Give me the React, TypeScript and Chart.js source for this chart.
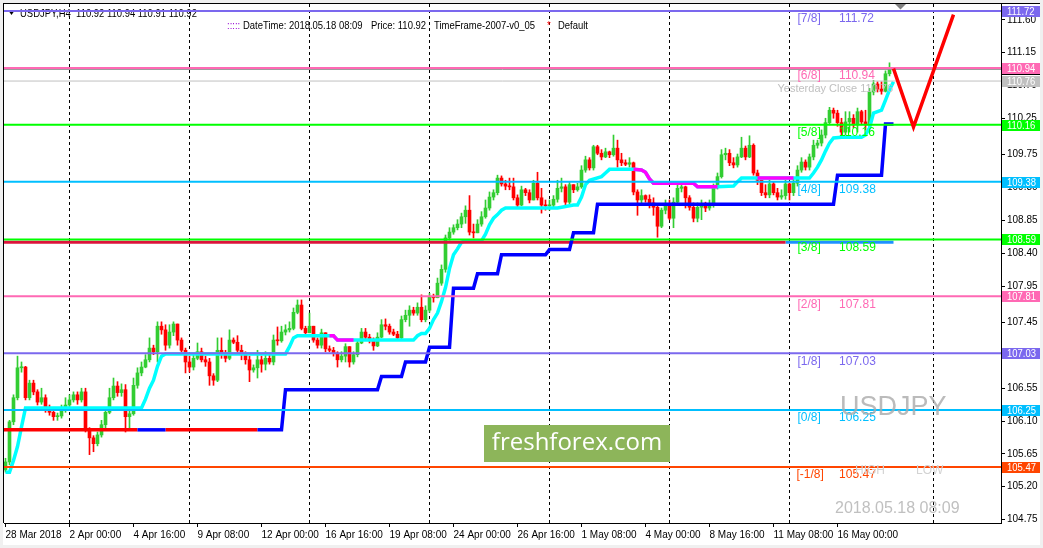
import React, { useEffect, useRef } from 'react';
import { Chart, registerables } from 'chart.js';

Chart.register(...registerables);

// ---------- axis extents ----------
const X_MIN = -0.375;
const X_MAX = 248.875;
const Y_MIN = 104.703;
const Y_MAX = 111.816;

// ---------- candles (USDJPY H4) ----------
const firstOpen = 105.43;
const closes = [
  105.54,106.09,106.42,106.83,106.84,106.42,106.62,106.50,106.36,106.42,
  106.28,106.22,106.16,106.17,106.25,106.32,106.39,106.46,106.39,106.50,
  105.98,105.87,105.79,105.91,106.05,106.22,106.42,106.58,106.49,106.53,
  106.16,106.20,106.59,106.76,106.84,106.94,107.10,107.05,107.40,107.35,
  107.14,107.32,107.43,107.21,107.07,106.91,106.84,106.96,107.05,106.94,
  106.91,106.72,106.66,107.07,107.02,106.96,107.21,107.18,107.07,107.01,
  106.94,106.80,106.83,106.94,106.88,106.96,106.91,107.21,107.20,107.32,
  107.35,107.37,107.59,107.69,107.37,107.31,107.40,107.21,107.14,107.31,
  107.09,107.07,107.03,106.94,106.99,107.12,106.91,107.01,107.17,107.32,
  107.25,107.21,107.13,107.25,107.42,107.40,107.32,107.29,107.24,107.49,
  107.55,107.62,107.58,107.66,107.49,107.62,107.80,107.79,107.99,108.18,
  108.61,108.69,108.75,108.80,108.90,108.99,108.69,108.68,108.80,108.90,
  109.02,109.17,109.23,109.43,109.35,109.32,109.31,109.16,109.06,109.27,
  109.23,109.13,109.36,109.16,109.06,109.05,109.06,109.14,109.29,109.31,
  109.10,109.34,109.27,109.31,109.54,109.68,109.57,109.86,109.77,109.72,
  109.79,109.75,109.84,109.68,109.64,109.62,109.64,109.24,109.13,109.19,
  109.14,109.09,109.03,108.77,108.99,109.06,108.88,109.10,109.29,109.31,
  109.16,109.03,108.88,109.03,109.06,109.02,109.06,109.31,109.45,109.75,
  109.77,109.64,109.61,109.72,109.84,109.72,109.88,109.50,109.40,109.23,
  109.20,109.35,109.23,109.17,109.19,109.35,109.23,109.36,109.54,109.65,
  109.58,109.72,109.88,109.91,110.02,110.19,110.36,110.32,110.19,110.06,
  110.20,110.25,110.16,110.34,110.20,110.16,110.61,110.72,110.65,110.62,
  110.86,110.92,110.92,
];
const highs = [
  105.59,106.11,106.46,106.99,106.91,106.85,106.66,106.66,106.53,106.55,
  106.46,106.32,106.25,106.21,106.32,106.42,106.46,106.50,106.50,106.55,
  106.55,106.01,105.90,105.95,106.11,106.28,106.55,106.69,106.64,106.61,
  106.60,106.28,106.69,106.83,106.91,107.01,107.24,107.14,107.46,107.46,
  107.42,107.42,107.46,107.40,107.24,107.10,106.99,107.01,107.17,107.10,
  106.99,106.96,106.75,107.24,107.24,107.07,107.35,107.24,107.27,107.14,
  107.05,106.99,106.87,107.07,106.99,107.05,107.01,107.28,107.39,107.40,
  107.42,107.46,107.65,107.76,107.76,107.40,107.58,107.40,107.24,107.36,
  107.31,107.13,107.11,107.05,107.05,107.16,107.12,107.05,107.21,107.37,
  107.37,107.29,107.24,107.31,107.49,107.50,107.43,107.36,107.33,107.54,
  107.62,107.68,107.66,107.72,107.83,107.68,107.85,107.84,108.06,108.24,
  108.65,108.75,108.79,108.86,108.95,109.05,109.19,108.80,108.86,108.97,
  109.13,109.24,109.27,109.47,109.46,109.40,109.43,109.43,109.20,109.32,
  109.29,109.27,109.40,109.51,109.29,109.13,109.13,109.19,109.40,109.43,
  109.34,109.38,109.32,109.36,109.60,109.73,109.71,109.88,109.88,109.82,
  109.84,109.80,110.02,109.95,109.77,109.68,109.71,109.65,109.27,109.27,
  109.20,109.20,109.16,109.06,109.02,109.13,109.13,109.16,109.34,109.36,
  109.32,109.19,109.09,109.09,109.13,109.10,109.13,109.35,109.50,109.82,
  109.84,109.82,109.71,109.76,109.99,109.87,110.01,109.90,109.54,109.40,
  109.34,109.40,109.38,109.29,109.27,109.40,109.36,109.42,109.60,109.71,
  109.68,109.76,109.95,109.95,110.09,110.25,110.40,110.39,110.36,110.25,
  110.34,110.34,110.30,110.39,110.36,110.36,110.66,110.77,110.75,110.75,
  110.90,111.01,110.94,
];
const lows = [
  105.40,105.50,106.05,106.39,106.77,106.39,106.39,106.46,106.32,106.33,
  106.22,106.18,106.11,106.11,106.14,106.22,106.28,106.36,106.33,106.36,
  105.95,105.64,105.68,105.76,105.88,106.00,106.20,106.39,106.44,106.44,
  105.95,105.98,106.18,106.55,106.72,106.83,106.91,107.01,106.91,107.29,
  107.07,107.10,107.27,107.14,107.05,106.76,106.77,106.80,106.94,106.91,
  106.85,106.59,106.59,106.64,106.96,106.91,106.94,107.16,107.02,106.94,
  106.88,106.64,106.77,106.69,106.77,106.80,106.88,106.87,107.14,107.18,
  107.28,107.32,107.35,107.57,107.35,107.27,107.31,107.18,107.10,107.10,
  107.05,107.05,106.99,106.84,106.91,106.91,106.84,106.88,106.98,107.16,
  107.21,107.17,107.07,107.12,107.24,107.35,107.29,107.27,107.21,107.22,
  107.46,107.40,107.55,107.55,107.46,107.46,107.59,107.73,107.79,107.96,
  108.14,108.58,108.66,108.72,108.75,108.81,108.65,108.61,108.69,108.77,
  108.88,108.99,109.13,109.20,109.32,109.27,109.27,109.13,109.02,109.05,
  109.19,109.09,109.17,109.13,108.95,108.99,108.99,109.03,109.10,109.24,
  109.06,109.08,109.23,109.25,109.29,109.51,109.54,109.54,109.75,109.68,
  109.71,109.71,109.73,109.58,109.60,109.60,109.58,109.20,108.92,109.09,
  109.10,109.02,108.92,108.62,108.75,108.94,108.86,108.75,109.08,109.24,
  109.02,108.99,108.83,108.83,108.86,108.97,108.99,109.03,109.28,109.43,
  109.68,109.60,109.57,109.58,109.71,109.68,109.71,109.47,109.34,109.19,
  109.16,109.16,109.20,109.13,109.14,109.14,109.13,109.19,109.32,109.51,
  109.54,109.54,109.68,109.84,109.87,109.98,110.16,110.25,110.14,110.02,
  110.02,110.06,110.12,110.06,110.16,110.09,110.13,110.57,110.61,110.58,
  110.61,110.83,110.91,
];

// ---------- time axis ----------
const xTickBars = [0, 16, 32, 48, 64, 80, 96, 112, 128, 144, 160, 176, 192, 208];
const xTickLabels = [
  '28 Mar 2018', '2 Apr 00:00', '4 Apr 16:00', '9 Apr 08:00', '12 Apr 00:00',
  '16 Apr 16:00', '19 Apr 08:00', '24 Apr 00:00', '26 Apr 16:00', '1 May 08:00',
  '4 May 00:00', '8 May 16:00', '11 May 08:00', '16 May 00:00',
];
const gridBars = [16, 46, 76, 106, 136, 166, 196, 232];
const yTickValues = [
  111.60, 111.15, 110.70, 110.25, 109.75, 109.30, 108.85, 108.40,
  107.95, 107.45, 107.00, 106.55, 106.10, 105.65, 105.20, 104.75,
];

// ---------- Murrey math levels ----------
const mmLevels = [111.72, 110.94, 110.16, 109.38, 108.59, 107.81, 107.03, 106.25, 105.47];
const mmNames = ['[7/8]', '[6/8]', '[5/8]', '[4/8]', '[3/8]', '[2/8]', '[1/8]', '[0/8]', '[-1/8]'];
const mmColors = ['#7B68EE', '#FF69B4', '#00FF00', '#00BFFF', '#00FF00', '#FF69B4', '#7B68EE', '#00BFFF', '#FF4500'];
const yesterdayClose = 110.76;
const bidPrice = 110.92;

// ---------- trailing line (cyan) ----------
const trailBars = [
  0, 1, 2, 3, 4, 5, 34, 35, 36, 37, 38, 39, 40, 70, 71, 72, 73, 82, 83,
  102, 103, 104, 105, 106, 107, 108, 109, 110, 111, 112, 113, 114, 115, 119,
  120, 121, 122, 123, 124, 125, 138, 139, 142, 143, 144, 145, 146, 149, 150,
  151, 157, 159, 160, 161, 162, 172, 173, 178, 182, 183, 184, 201, 202, 203,
  204, 205, 206, 207, 209, 214, 215, 216, 217, 219, 220, 221, 222,
];
const trailPrices = [
  105.40, 105.40, 105.56, 105.75, 106.02, 106.28, 106.28, 106.40, 106.55, 106.66, 106.85, 106.99, 107.02, 107.02, 107.12, 107.24, 107.27, 107.27, 107.21,
  107.21, 107.27, 107.30, 107.30, 107.37, 107.49, 107.58, 107.74, 107.93, 108.19, 108.38, 108.46, 108.55, 108.57, 108.57,
  108.66, 108.79, 108.88, 108.93, 108.99, 109.02, 109.02, 109.03, 109.06, 109.06, 109.17, 109.34, 109.40, 109.45, 109.50,
  109.55, 109.55, 109.54, 109.51, 109.42, 109.36, 109.36, 109.31, 109.31, 109.32, 109.38, 109.43, 109.43, 109.50, 109.58,
  109.68, 109.80, 109.91, 109.98, 109.99, 109.99, 110.02, 110.12, 110.32, 110.36, 110.50, 110.64, 110.75,
];
// magenta (down-trend) parts of the same line
const magentaA = { bars: [81, 82, 83, 87], prices: [107.27, 107.27, 107.21, 107.21] };
const magentaB = { bars: [157, 159, 160, 161, 162, 172, 173, 178], prices: [109.55, 109.54, 109.51, 109.42, 109.36, 109.36, 109.31, 109.31] };
const magentaC = { bars: [188, 197], prices: [109.43, 109.43] };

// ---------- blue step line ----------
const stepBars = [63, 69, 70, 93, 94, 99, 100, 105, 106, 111, 112, 117, 118, 123, 124, 135, 136, 141, 142, 147, 148, 207, 208, 219, 220, 222];
const stepPrices = [105.98, 105.98, 106.53, 106.53, 106.71, 106.71, 106.91, 106.91, 107.11, 107.11, 107.92, 107.92, 108.12, 108.12, 108.38, 108.38, 108.45, 108.45, 108.68, 108.68, 109.07, 109.07, 109.47, 109.47, 110.17, 110.17];

// ---------- support lines ----------
const lowSupport = 105.98;
const lowRedSpans = [[X_MIN, 33], [40, 63]];
const lowBlueSpan = [33, 40];
const highSupport = 108.55;
const highRedSpan = [X_MIN, 195];
const highBlueSpan = [195, 222];

// ---------- projection zigzag ----------
const projBars = [222, 227, 237];
const projPrices = [110.93, 110.13, 111.67];

// ---------- right-hand price tags ----------
const tagPrices = [110.92, 111.72, 110.94, 110.76, 110.16, 109.38, 108.59, 107.81, 107.03, 106.25, 105.47];
const tagColors = ['#000000', '#7B68EE', '#FF69B4', '#C0C0C0', '#00FF00', '#00BFFF', '#00FF00', '#FF69B4', '#7B68EE', '#00BFFF', '#FF4500'];

const SMALL = '"Liberation Sans", Arial, sans-serif';
const ARIAL = '"Liberation Sans", Arial, sans-serif';

const opens = closes.map((c, i) => (i === 0 ? firstOpen : closes[i - 1]));
const barIdx = closes.map((_, i) => i);
const UP = '#32CD32';
const DOWN = '#FF0000';
const candleColors = closes.map((c, i) => (c >= opens[i] ? UP : DOWN));

function lineDs(xs: number[], ys: number[], color: string, width: number, order: number) {
  return {
    type: 'line' as const,
    data: xs.map((x, i) => ({ x, y: ys[i] })),
    borderColor: color,
    backgroundColor: color,
    borderWidth: width,
    pointRadius: 0,
    tension: 0,
    fill: false,
    order,
  };
}

// draws text squeezed horizontally, to imitate the narrow terminal font
function narrowText(ctx: CanvasRenderingContext2D, text: string, x: number, y: number, sx = 0.86) {
  ctx.save();
  ctx.translate(x, y);
  ctx.scale(sx, 1);
  ctx.fillText(text, 0, 0);
  ctx.restore();
}

const decor = {
  id: 'mt4decor',
  beforeDraw(chart: any) {
    const { ctx, width, height } = chart;
    ctx.save();
    ctx.fillStyle = '#F0F0F0';
    ctx.fillRect(0, 0, width, height);
    ctx.fillStyle = '#FFFFFF';
    ctx.fillRect(3, 3, 1037, 542);
    ctx.restore();
  },
  beforeDatasetsDraw(chart: any) {
    const { ctx, chartArea, scales } = chart;
    const x = scales.x;
    ctx.save();
    ctx.strokeStyle = '#000';
    ctx.lineWidth = 1;
    ctx.setLineDash([3, 3]);
    gridBars.forEach((b) => {
      const px = x.getPixelForValue(b);
      ctx.beginPath();
      ctx.moveTo(px, chartArea.top);
      ctx.lineTo(px, chartArea.bottom);
      ctx.stroke();
    });
    ctx.setLineDash([]);
    // header
    const n = closes.length - 1;
    ctx.fillStyle = '#000';
    ctx.beginPath();
    ctx.moveTo(8, 10);
    ctx.lineTo(15, 10);
    ctx.lineTo(11.5, 15);
    ctx.closePath();
    ctx.fill();
    ctx.font = '11px ' + SMALL;
    ctx.textBaseline = 'middle';
    narrowText(ctx, 'USDJPY,H4  ' + [opens[n], highs[n], lows[n], closes[n]].map((v) => v.toFixed(2)).join(' '), 20, 13.5);
    ctx.fillStyle = '#9400D3';
    narrowText(ctx, ':::::', 227, 26);
    ctx.fillStyle = '#000';
    narrowText(ctx, 'DateTime: 2018.05.18 08:09', 243, 26);
    narrowText(ctx, 'Price: ' + closes[n].toFixed(2), 371, 26);
    narrowText(ctx, 'TimeFrame-2007-v0_05', 434, 26);
    ctx.fillStyle = '#FF0000';
    narrowText(ctx, '*', 547, 26);
    ctx.fillStyle = '#000';
    narrowText(ctx, 'Default', 558, 26);
    ctx.restore();
  },
  afterDatasetsDraw(chart: any) {
    const { ctx, scales } = chart;
    const x = scales.x;
    const y = scales.y;
    ctx.save();
    ctx.textBaseline = 'middle';
    ctx.font = '12px ' + ARIAL;
    const lx = x.getPixelForValue(198);
    const vx = x.getPixelForValue(208.4);
    mmLevels.forEach((lv, k) => {
      const py = y.getPixelForValue(lv);
      ctx.fillStyle = mmColors[k];
      ctx.fillText(mmNames[k], lx - (mmNames[k].length > 5 ? 1 : 0), py + 8);
      ctx.fillText(lv.toFixed(2), vx, py + 8);
    });
    ctx.fillStyle = '#C0C0C0';
    ctx.font = '11px ' + ARIAL;
    ctx.fillText('Yesterday Close ' + yesterdayClose.toFixed(2), x.getPixelForValue(193), y.getPixelForValue(yesterdayClose) + 8);
    // watermark labels
    ctx.fillStyle = 'rgba(170,170,170,0.8)';
    ctx.font = '27px ' + ARIAL;
    ctx.fillText('USDJPY', 840, 408);
    ctx.fillStyle = '#D3D3D3';
    ctx.font = '12px ' + ARIAL;
    ctx.fillText('HIGH', 855, 471);
    ctx.fillText('LOW', 916, 471);
    ctx.fillStyle = '#C0C0C0';
    ctx.font = '16px ' + ARIAL;
    ctx.fillText('2018.05.18 08:09', 835, 509);
    // freshforex badge
    ctx.fillStyle = '#8DB55A';
    ctx.fillRect(484, 425, 186, 37);
    ctx.fillStyle = '#FFFFFF';
    ctx.font = '24px "Open Sans", ' + ARIAL;
    ctx.textAlign = 'center';
    ctx.fillText('freshforex.com', 577, 443);
    ctx.textAlign = 'left';
    // shift marker
    ctx.fillStyle = '#808080';
    ctx.beginPath();
    ctx.moveTo(895, 4);
    ctx.lineTo(906, 4);
    ctx.lineTo(900.5, 9.5);
    ctx.closePath();
    ctx.fill();
    ctx.restore();
  },
  afterDraw(chart: any) {
    const { ctx, scales } = chart;
    const y = scales.y;
    ctx.save();
    ctx.fillStyle = '#000';
    ctx.fillRect(3, 3, 1037, 1);
    ctx.fillRect(3, 3, 1, 520);
    ctx.font = '11px ' + SMALL;
    ctx.textBaseline = 'middle';
    tagPrices.forEach((p, k) => {
      const py = y.getPixelForValue(p);
      ctx.fillStyle = tagColors[k];
      ctx.fillRect(1002, Math.round(py) - 5, 38, 11);
      ctx.fillStyle = '#FFFFFF';
      narrowText(ctx, p.toFixed(2), 1007, Math.round(py) + 0.5, 0.86);
    });
    ctx.restore();
  },
};

export default function App() {
  const ref = useRef<HTMLCanvasElement | null>(null);
  useEffect(() => {
    document.body.style.margin = '0';
    const canvas = ref.current;
    if (!canvas) return;
    Chart.defaults.color = '#000';
    const datasets: any[] = [
      {
        type: 'bar',
        data: barIdx.map((i) => ({
          x: i,
          y: [Math.min(lows[i], opens[i], closes[i]), Math.max(highs[i], opens[i], closes[i])],
        })),
        backgroundColor: candleColors,
        borderWidth: 0,
        barThickness: 1,
        grouped: false,
        order: 20,
      },
      {
        type: 'bar',
        data: barIdx.map((i) => ({ x: i, y: [opens[i], closes[i]] })),
        backgroundColor: candleColors,
        borderWidth: 0,
        barThickness: 3,
        minBarLength: 1,
        grouped: false,
        order: 19,
      },
      lineDs(trailBars, trailPrices, '#00FFFF', 3.5, 10),
      lineDs(magentaA.bars, magentaA.prices, '#FF00FF', 3.5, 9),
      lineDs(magentaB.bars, magentaB.prices, '#FF00FF', 3.5, 9),
      lineDs(magentaC.bars, magentaC.prices, '#FF00FF', 3.5, 9),
      ...lowRedSpans.map((s) => lineDs(s, [lowSupport, lowSupport], '#FF0000', 3.5, 8)),
      lineDs(lowBlueSpan, [lowSupport, lowSupport], '#0000FF', 3.5, 7),
      lineDs(stepBars, stepPrices, '#0000FF', 3.5, 7),
      lineDs(highRedSpan, [highSupport, highSupport], '#DC143C', 3, 8),
      lineDs(highBlueSpan, [highSupport, highSupport], '#1E90FF', 3, 8),
      lineDs([X_MIN, X_MAX], [yesterdayClose, yesterdayClose], '#C0C0C0', 1, 6),
      lineDs([X_MIN, X_MAX], [bidPrice, bidPrice], '#909090', 1, 6),
      ...mmLevels.map((lv, k) => lineDs([X_MIN, X_MAX], [lv, lv], mmColors[k], 2, 2)),
      lineDs(projBars, projPrices, '#FF0000', 3.5, 0),
    ];
    const chart = new Chart(canvas, {
      type: 'bar',
      data: { datasets },
      options: {
        responsive: false,
        animation: false,
        devicePixelRatio: 1,
        layout: { padding: { left: 4, top: 4, right: 0, bottom: 0 } },
        plugins: { legend: { display: false }, tooltip: { enabled: false } },
        scales: {
          x: {
            type: 'linear',
            min: X_MIN,
            max: X_MAX,
            offset: false,
            afterFit: (s: any) => {
              s.height = 25;
              s.paddingLeft = 0;
              s.paddingRight = 0;
            },
            afterBuildTicks: (s: any) => { s.ticks = xTickBars.map((v) => ({ value: v })); },
            grid: { drawOnChartArea: false, drawTicks: true, tickLength: 4, color: '#000', offset: false },
            border: { color: '#000', width: 1 },
            ticks: {
              align: 'start',
              autoSkip: false,
              maxRotation: 0,
              padding: 2,
              color: '#000',
              font: { family: SMALL, size: 10 },
              callback: (_v: any, i: number) => xTickLabels[i],
            },
          },
          y: {
            type: 'linear',
            position: 'right',
            min: Y_MIN,
            max: Y_MAX,
            afterFit: (s: any) => {
              s.width = 42;
              s.paddingTop = 0;
              s.paddingBottom = 0;
            },
            afterBuildTicks: (s: any) => { s.ticks = yTickValues.map((v) => ({ value: v })); },
            grid: { drawOnChartArea: false, drawTicks: true, tickLength: 4, color: '#000' },
            border: { color: '#000', width: 1 },
            ticks: {
              autoSkip: false,
              padding: 2,
              color: '#000',
              font: { family: SMALL, size: 10 },
              callback: (v: any) => Number(v).toFixed(2),
            },
          },
        },
      } as any,
      plugins: [decor],
    });
    return () => chart.destroy();
  }, []);
  return (
    <div style={{ position: 'fixed', left: 0, top: 0, width: 1043, height: 548 }}>
      <canvas ref={ref} width={1043} height={548} style={{ width: 1043, height: 548, display: 'block' }} />
    </div>
  );
}
